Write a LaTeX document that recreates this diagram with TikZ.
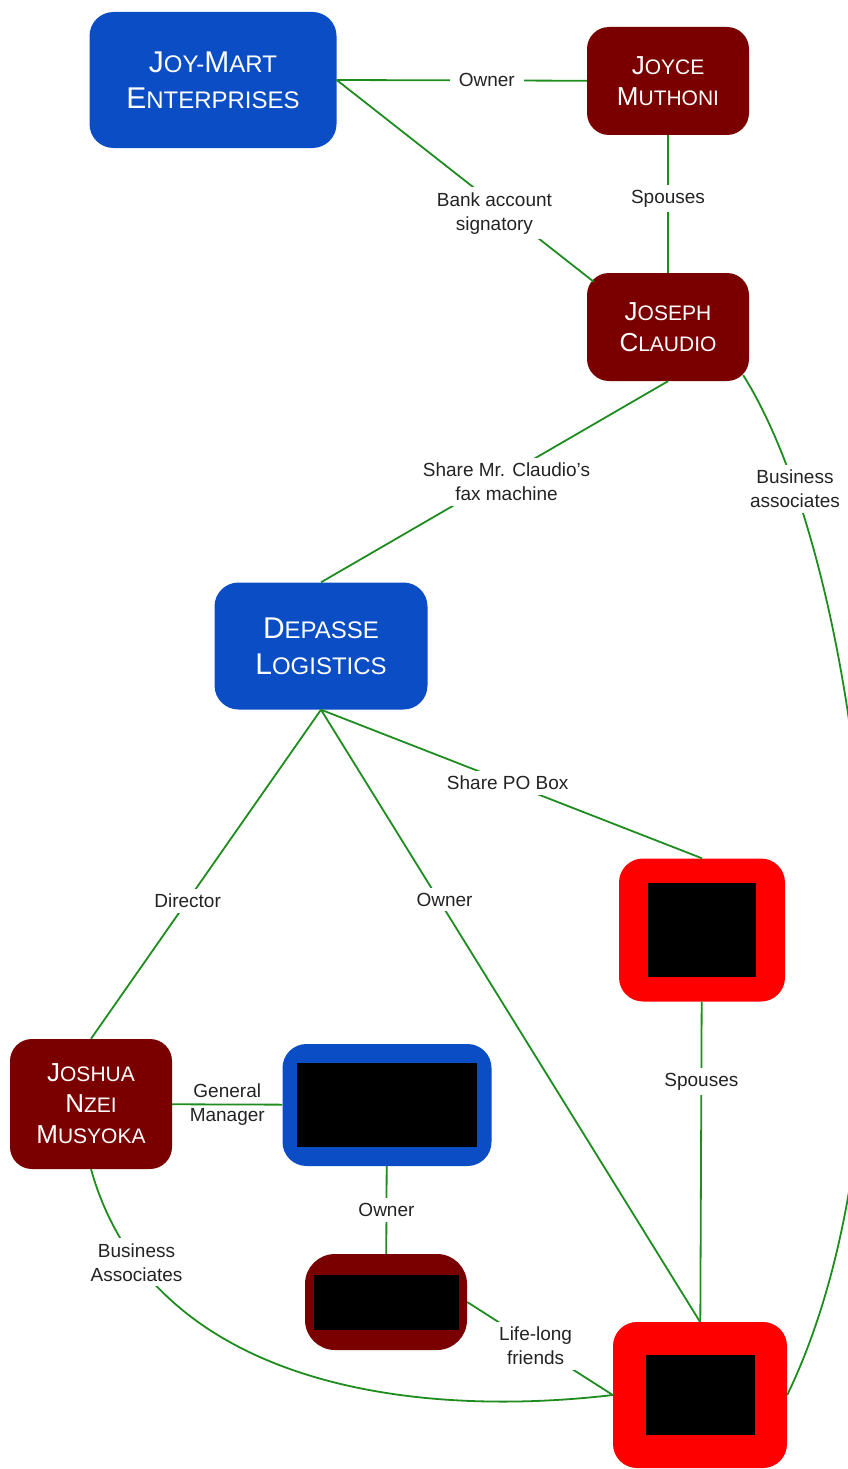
\documentclass[tikz,border=0pt]{standalone}
\usepackage{fontspec}
\setmainfont{Liberation Sans}
\usepackage{xcolor}
\definecolor{compblue}{RGB}{10,77,196}
\definecolor{personred}{RGB}{122,0,0}
\definecolor{flagred}{RGB}{255,0,0}
\definecolor{linkgreen}{RGB}{30,140,30}
\definecolor{labelgray}{RGB}{35,35,35}

\newcommand{\cbig}[1]{{\fontsize{30}{36}\selectfont #1}}
\newcommand{\pbig}[1]{{\fontsize{26}{31}\selectfont #1}}
\newcommand{\blackout}[2]{\textcolor{black}{\rule{#1pt}{#2pt}}}

\tikzset{
  company/.style={rectangle, rounded corners=24pt, fill=compblue, text=white, align=center, inner sep=0pt,
    font=\fontsize{24}{36}\selectfont},
  person/.style={rectangle, rounded corners=22pt, fill=personred, text=white, align=center, inner sep=0pt,
    font=\fontsize{21}{31}\selectfont},
  flagged/.style={rectangle, rounded corners=24pt, fill=flagred, inner sep=0pt},
  link/.style={draw=linkgreen, line width=1.8pt},
  lbl/.style={fill=white, inner xsep=9pt, inner ysep=5pt, align=center, text=labelgray, font=\fontsize{19}{24}\selectfont}
}

\begin{document}
\begin{tikzpicture}[x=1pt, y=-1pt]
    \useasboundingbox (0,0) rectangle (847,1469);

    % organisations and people
    \node[company, minimum width=247, minimum height=136] (JoyMart) at (213,80) {\cbig{J}OY-\cbig{M}ART\\\cbig{E}NTERPRISES};
    \node[person, minimum width=162, minimum height=108] (Joyce) at (668,81) {\pbig{J}OYCE\\\pbig{M}UTHONI};
    \node[person, minimum width=162, minimum height=108] (Joseph) at (668,327) {\pbig{J}OSEPH\\\pbig{C}LAUDIO};
    \node[company, minimum width=213, minimum height=127] (Depasse) at (321,646) {\cbig{D}EPASSE\\\cbig{L}OGISTICS};
    \node[person, minimum width=162, minimum height=130] (Joshua) at (91,1104) {\pbig{J}OSHUA\\\pbig{N}ZEI\\\pbig{M}USYOKA};

    % blacked-out entries
    \node[company, minimum width=209, minimum height=122] (Hidden1) at (387,1105) {\blackout{180}{84}};
    \node[person, rounded corners=30pt, minimum width=162, minimum height=96] (Hidden2) at (386,1302) {\blackout{145}{55}};
    \node[flagged, minimum width=166, minimum height=143] (Flag1) at (702,930) {\blackout{108}{94}};
    \node[flagged, minimum width=174, minimum height=146] (Flag2) at (700,1395) {\blackout{109}{80}};

    % relations
    \draw[link] (JoyMart.east) -- (Joyce) node[lbl, pos=0.6] {Owner};
    \draw[link] (JoyMart.east) -- ([shift={(7,9)}]Joseph.north west) node[lbl, pos=0.66, xshift=-12] {Bank account\\signatory};
    \draw[link] (Joyce) -- (Joseph) node[lbl, pos=0.46] {Spouses};
    \draw[link] (Joseph.south) -- (Depasse.north) node[lbl, midway, xshift=12] {Share Mr. Claudio's\\fax machine};
    \draw[link] ([shift={(-6,-6)}]Joseph.south east) .. controls (860,560) and (930,1100) .. (Flag2.east)
        node[lbl, pos=0.16] {Business\\associates};
    \draw[link] (Depasse.south) -- (Joshua.north) node[lbl, pos=0.58] {Director};
    \draw[link] (Depasse.south) -- (Flag2.north) node[lbl, pos=0.31, xshift=6] {Owner};
    \draw[link] (Depasse.south) -- (Flag1.north) node[lbl, pos=0.49] {Share PO Box};
    \draw[link] (Flag1) -- (Flag2) node[lbl, pos=0.25] {Spouses};
    \draw[link] (Joshua) -- (Hidden1) node[lbl, fill=none, inner xsep=2pt, midway] {General\\Manager};
    \draw[link] (Hidden1) -- (Hidden2) node[lbl, midway] {Owner};
    \draw[link] (Hidden2.east) -- (Flag2.west) node[lbl, pos=0.47] {Life-long\\friends};
    \draw[link] (Joshua.south) .. controls (150,1380) and (400,1420) .. (Flag2.west)
        node[lbl, pos=0.17] {Business\\Associates};
\end{tikzpicture}
\end{document}
